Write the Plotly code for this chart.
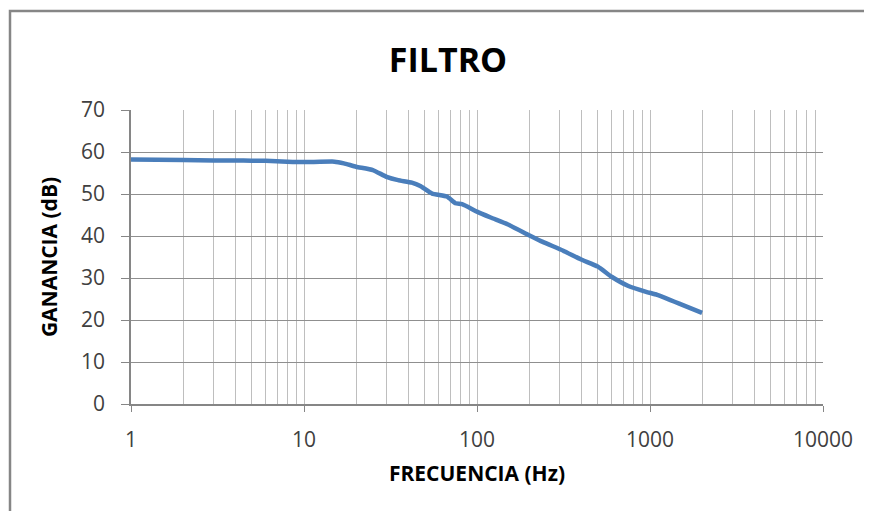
import plotly.graph_objects as go

freq_hz = [1, 2, 3, 4, 5, 6, 8, 10, 15, 17, 20, 25, 30, 35, 42, 47, 55, 67, 75, 82,
           100, 120, 150, 200, 240, 315, 400, 500, 600, 750, 950, 1100, 1500, 2000]
gain_db = [58.2, 58.1, 58.0, 58.0, 57.9, 57.9, 57.7, 57.6, 57.7, 57.3, 56.5, 55.7, 54.1,
           53.3, 52.7, 51.9, 50.1, 49.4, 47.8, 47.6, 45.8, 44.4, 42.8, 40.2, 38.6, 36.5,
           34.4, 32.7, 30.3, 28.1, 26.7, 26.0, 23.8, 21.7]
x_ticks = [1, 10, 100, 1000, 10000]
x_ticklabels = ["1", "10", "100", "1000", "10000"]

FONT = "Open Sans"
OFF = 8  # page body margin
W, H = 872 - OFF, 511 - OFF
L, T = 131 - OFF, 110 - OFF
R = W - (823 - OFF)
B = H - (404 - OFF)
pw, ph = W - L - R, H - T - B

fig = go.Figure()
fig.add_trace(go.Scatter(
    x=freq_hz, y=gain_db, mode="lines",
    line=dict(color="#4A7EBB", width=4.5, shape="spline", smoothing=0.4),
    showlegend=False, hoverinfo="x+y",
))

fig.update_layout(
    width=W, height=H,
    margin=dict(l=L, r=R, t=T, b=B),
    paper_bgcolor="white", plot_bgcolor="white",
    title=dict(text="<b>FILTRO</b>", x=(448 - 131) / pw, xref="paper",
               y=1 - (60 - OFF) / H, yref="container", xanchor="center", yanchor="middle",
               font=dict(family=FONT, size=34, color="black")),
    xaxis=dict(
        type="log", range=[0, 4], tickvals=x_ticks, ticktext=x_ticklabels,
        showgrid=True, gridcolor="#BEBEBE", gridwidth=1,
        minor=dict(dtick="D1", showgrid=True, gridcolor="#BEBEBE", gridwidth=1, ticks=""),
        showline=True, linecolor="#868686", linewidth=1.5,
        ticks="outside", ticklen=6, tickcolor="#868686",
        tickfont=dict(family=FONT, size=21, color="#404040"),
        ticklabelstandoff=10,
        title=dict(text="<b>FRECUENCIA (Hz)</b>", standoff=14,
                   font=dict(family=FONT, size=21, color="black")),
        zeroline=False,
    ),
    yaxis=dict(
        range=[0, 70], dtick=10, tick0=0,
        showgrid=True, gridcolor="#8F8F8F", gridwidth=1,
        showline=True, linecolor="#868686", linewidth=1.5,
        ticks="outside", ticklen=8, tickcolor="#868686",
        tickfont=dict(family=FONT, size=21, color="#404040"),
        ticklabelstandoff=12,
        title=dict(text="<b>GANANCIA (dB)</b>", standoff=18,
                   font=dict(family=FONT, size=21, color="black")),
        zeroline=False,
    ),
    shapes=[dict(
        type="rect", xref="paper", yref="paper",
        x0=(10 - 131) / pw, x1=(900 - 131) / pw,
        y0=(404 - 540) / ph, y1=(404 - 11) / ph,
        line=dict(color="#868686", width=2.5), fillcolor="rgba(0,0,0,0)", layer="below",
    )],
)

fig.write_html("out.html")
